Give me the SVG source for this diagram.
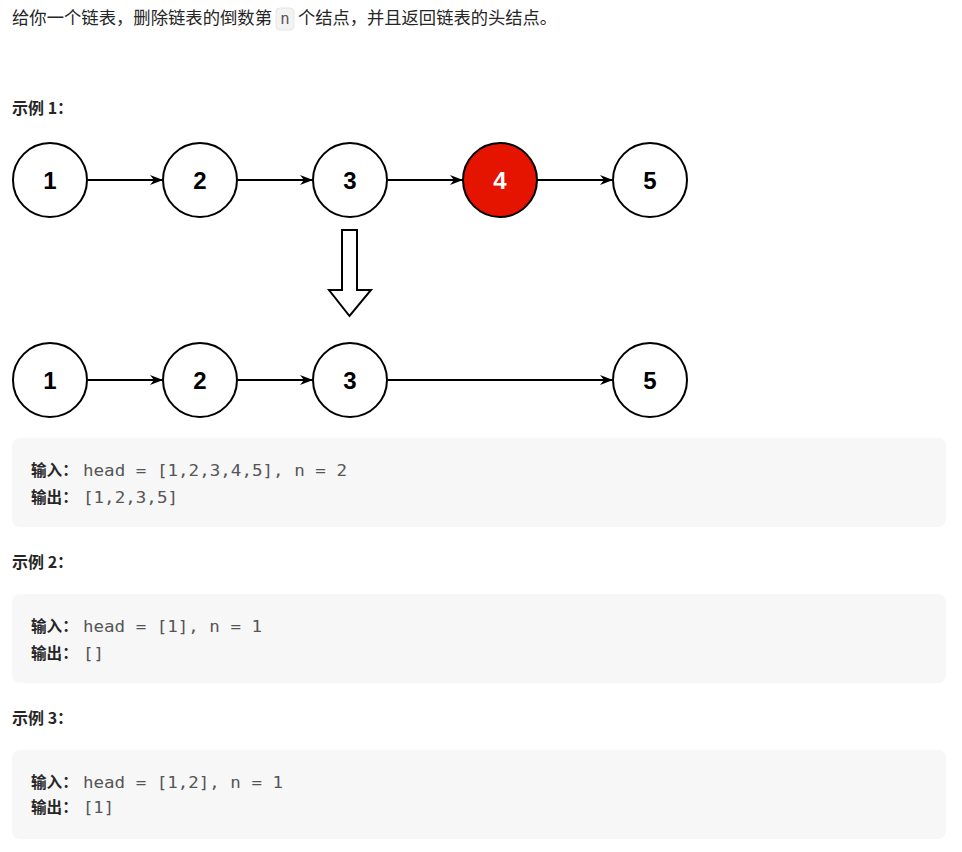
<svg xmlns="http://www.w3.org/2000/svg" width="962" height="852" viewBox="0 0 962 852">
<style>
.cjk{font-family:"Noto Sans CJK SC","Liberation Sans",sans-serif;fill:#262626}
.h{font-family:"Noto Sans CJK SC","Liberation Sans",sans-serif;font-weight:bold;font-size:16px;fill:#262626}
.lbl{font-family:"Noto Sans CJK SC","Liberation Sans",sans-serif;font-weight:bold;font-size:15.6px;fill:#262626}
.mono{font-family:"DejaVu Sans Mono","Liberation Mono",monospace;font-size:15.6px;fill:#555555}
.box{fill:#f7f7f8}
.node circle{fill:#ffffff;stroke:#000000;stroke-width:2}
.node text{font-family:"Liberation Sans",Arial,sans-serif;font-weight:bold;font-size:24px;fill:#000000;text-anchor:middle}
.node.red circle{fill:#e51400}
.node.red text{fill:#ffffff}
.edge{stroke:#000000;stroke-width:2;fill:none;marker-end:url(#ah)}
</style>
<defs>
<marker id="ah" viewBox="0 0 13 10" refX="12" refY="5" markerWidth="13" markerHeight="10" markerUnits="userSpaceOnUse" orient="auto">
<path d="M0,0 L13,5 L0,10 L4,5 Z" fill="#000000"/>
</marker>
</defs>
<rect width="962" height="852" fill="#ffffff"/>
<g id="title">
<text class="cjk" x="12" y="24" font-size="17.4px" textLength="260" lengthAdjust="spacingAndGlyphs">给你一个链表，删除链表的倒数第</text>
<rect x="276" y="8" width="18" height="22" rx="4" fill="#f3f3f4" stroke="#e6e6e8" stroke-width="1"/>
<text class="mono" x="285" y="24" font-size="14px" text-anchor="middle" fill="#5c5c5c">n</text>
<text class="cjk" x="298" y="24" font-size="17.4px" textLength="259" lengthAdjust="spacingAndGlyphs">个结点，并且返回链表的头结点。</text>
</g>
<text class="h" x="12" y="114">示例 1：</text>
<g id="connectors">
<line class="edge" x1="88" y1="180" x2="162" y2="180"/>
<line class="edge" x1="238" y1="180" x2="312" y2="180"/>
<line class="edge" x1="388" y1="180" x2="462" y2="180"/>
<line class="edge" x1="538" y1="180" x2="612" y2="180"/>
<line class="edge" x1="88" y1="380" x2="162" y2="380"/>
<line class="edge" x1="238" y1="380" x2="312" y2="380"/>
<line class="edge" x1="388" y1="380" x2="612" y2="380"/>
</g>
<g id="n1" class="node"><circle cx="50" cy="180" r="37"/><text x="50" y="189">1</text></g>
<g id="n2" class="node"><circle cx="200" cy="180" r="37"/><text x="200" y="189">2</text></g>
<g id="n3" class="node"><circle cx="350" cy="180" r="37"/><text x="350" y="189">3</text></g>
<g id="n4" class="node red"><circle cx="500" cy="180" r="37"/><text x="500" y="189">4</text></g>
<g id="n5" class="node"><circle cx="650" cy="180" r="37"/><text x="650" y="189">5</text></g>
<g id="bigArrow"><path d="M342,230 L357,230 L357,290 L371,290 L349.5,316 L329,290 L342,290 Z" fill="#ffffff" stroke="#000000" stroke-width="2" stroke-linejoin="miter"/></g>
<g id="m1" class="node"><circle cx="50" cy="380" r="37"/><text x="50" y="389">1</text></g>
<g id="m2" class="node"><circle cx="200" cy="380" r="37"/><text x="200" y="389">2</text></g>
<g id="m3" class="node"><circle cx="350" cy="380" r="37"/><text x="350" y="389">3</text></g>
<g id="m5" class="node"><circle cx="650" cy="380" r="37"/><text x="650" y="389">5</text></g>
<g id="ex1">
<rect class="box" x="12" y="438" width="934" height="89" rx="8"/>
<text class="lbl" x="31" y="476">输入：</text><text class="mono" x="83" y="476" textLength="264" lengthAdjust="spacingAndGlyphs">head = [1,2,3,4,5], n = 2</text>
<text class="lbl" x="31" y="503">输出：</text><text class="mono" x="83" y="503" textLength="95" lengthAdjust="spacingAndGlyphs">[1,2,3,5]</text>
</g>
<text class="h" x="12" y="568">示例 2：</text>
<g id="ex2">
<rect class="box" x="12" y="594" width="934" height="89" rx="8"/>
<text class="lbl" x="31" y="632">输入：</text><text class="mono" x="83" y="632" textLength="179" lengthAdjust="spacingAndGlyphs">head = [1], n = 1</text>
<text class="lbl" x="31" y="659">输出：</text><text class="mono" x="83" y="659" textLength="21" lengthAdjust="spacingAndGlyphs">[]</text>
</g>
<text class="h" x="12" y="724">示例 3：</text>
<g id="ex3">
<rect class="box" x="12" y="750" width="934" height="89" rx="8"/>
<text class="lbl" x="31" y="788">输入：</text><text class="mono" x="83" y="788" textLength="200" lengthAdjust="spacingAndGlyphs">head = [1,2], n = 1</text>
<text class="lbl" x="31" y="813">输出：</text><text class="mono" x="83" y="813" textLength="31" lengthAdjust="spacingAndGlyphs">[1]</text>
</g>
</svg>
